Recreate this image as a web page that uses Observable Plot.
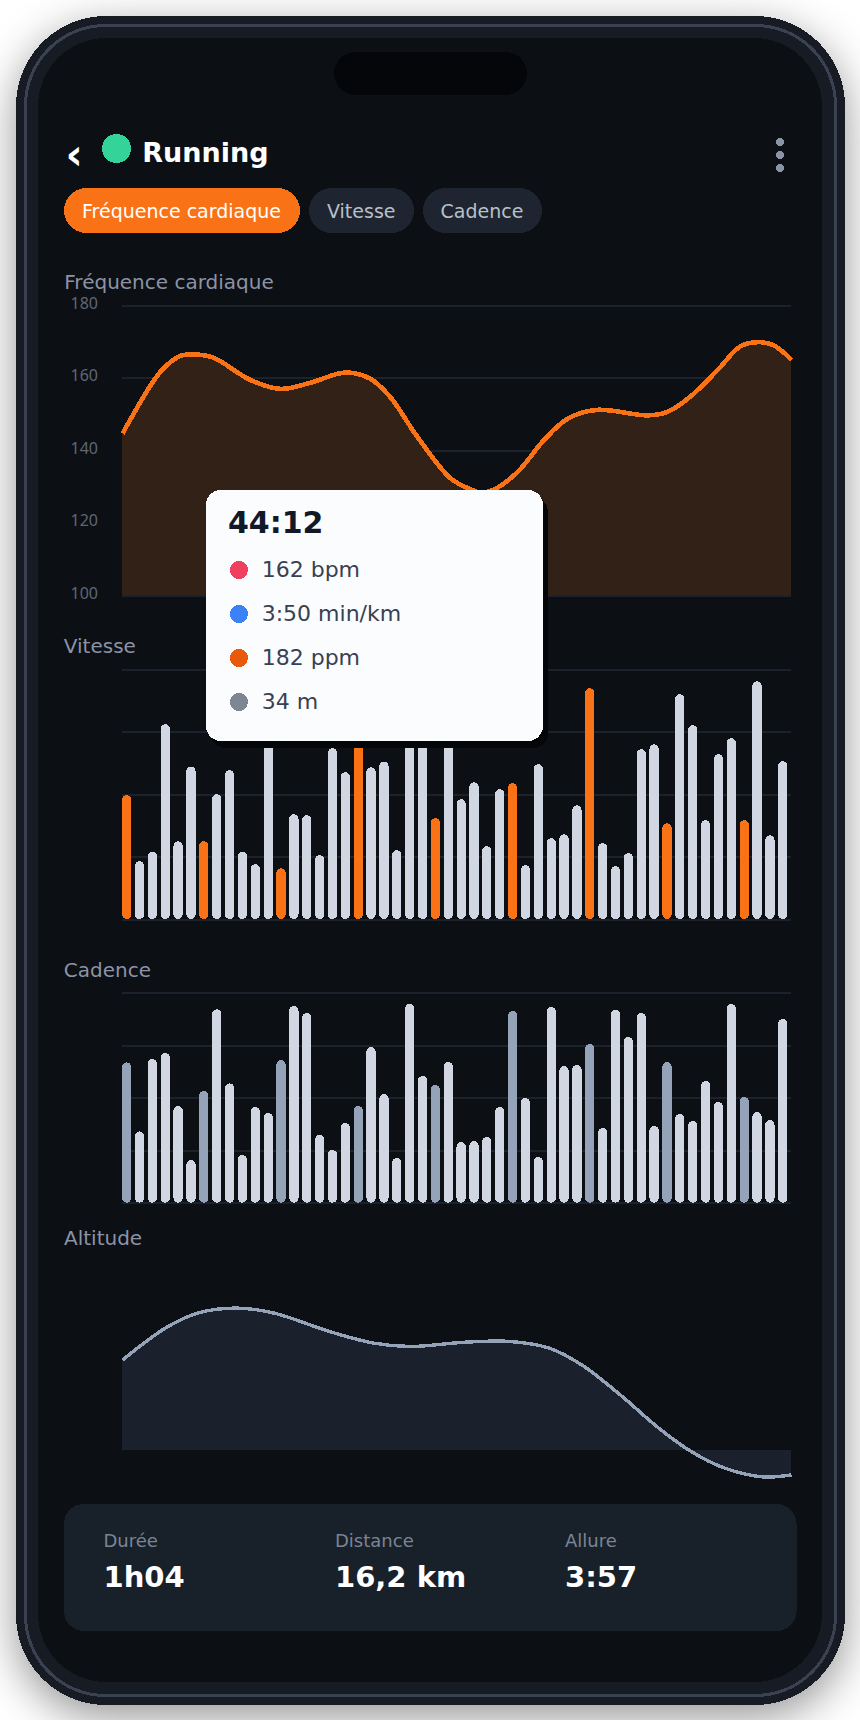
<!DOCTYPE html>
<html lang="fr">
<head>
<meta charset="utf-8">
<title>Running</title>
<script src="https://cdn.jsdelivr.net/npm/d3@7"></script>
<script src="https://cdn.jsdelivr.net/npm/@observablehq/plot@0.6"></script>
<style>
html,body{margin:0;padding:0;background:#fff;width:860px;height:1720px;overflow:hidden}
#stage{position:relative;width:860px;height:1720px;font-family:"DejaVu Sans",sans-serif}
#stage>svg{position:absolute;left:0;overflow:visible}
#stage svg{shape-rendering:crispEdges}
.lbl{fill:#8b93a7;font-size:20px}
.tip{fill:#374151;font-size:22px}
.sl{fill:#7c8494;font-size:18px}
.sv{fill:#fff;font-size:29px;font-weight:700}
</style>
</head>
<body>
<div id="stage"></div>
<script>
// Fréquence cardiaque (minutes, bpm)
const hrTime = [0,2.7,3.9,5.55,6.8,8.7,12.2,15.1,18,21.3,23.7,25.6,28.2,31.4,33.3,34.2,35.5,37.8,40.3,42.6,45.4,50.2,52.1,54.3,56.9,59.1,60.8,62.3,64];
const hrValues = [144.7,158,162.6,166.1,166.5,165.6,159.5,157,158.7,161.5,159.8,154.8,143.8,132.3,129.3,128.4,129.2,134.1,142.8,148.8,151.2,149.7,150.6,154.8,162.1,168.7,169.9,169,165];
const hrTicks = [100,120,140,160,180];
// Vitesse (relative bars)
const speedValues = [49.5,23.1,27,77.9,31.1,61,31.1,49.9,59.5,27,21.9,72,20.3,41.9,41.5,25.5,68.3,58.7,72,60.7,63,27.5,72,72,40.3,72,47.9,54.7,29.1,51.9,54.3,21.5,61.9,32.3,33.9,45.5,92.3,30.3,21.1,26.3,67.9,69.9,38.3,89.9,77.5,39.5,65.9,72.3,39.5,95.1,33.5,63.1];
// Cadence (relative bars)
const cadenceValues = [66.9,34,68.5,71.4,46.1,20.3,53.3,92.2,56.9,22.7,45.6,42.8,68,93.8,90.5,32.3,25.1,38,46.1,74.2,51.8,21.3,94.8,60.4,56.1,67.1,28.9,29.4,31.3,45.6,91.4,49.9,21.8,93.3,65.2,65.7,75.7,35.6,91.9,79,90.5,36.6,67.1,42.3,39,58,48,94.8,50.4,43.2,39.4,87.6];
const barTicks = [0,25,50,75,100];
// Altitude
const altTime = [0,4.1,7.2,10.9,14.5,19.8,24,27.6,32.9,37.1,40.8,43.9,47.6,51.3,54.4,57.6,61.3,64];
const altValues = [45.2,61.2,68.7,71.2,68.7,59.5,53.7,52,54.2,54.5,51.2,42.9,27.9,11.2,-0.5,-8.8,-13.2,-12.2];
// Textes
const tabs = ["Fréquence cardiaque","Vitesse","Cadence"];
const tipRows = ["162 bpm","3:50 min/km","182 ppm","34 m"];
const summaryLabels = ["Durée","Distance","Allure"];
const summaryValues = ["1h04","16,2 km","3:57"];

const C = {grid:"#1c222c",orange:"#f97316",brown:"#322116",bar:"#d0d7e2",slate:"#94a3b8",altFill:"#1a212c",tick:"#5f6775"};
const stage = document.getElementById("stage");
const NS = "http://www.w3.org/2000/svg";

function addMarkup(html, top, h){
  const s = document.createElementNS(NS,"svg");
  s.setAttribute("width",860); s.setAttribute("height",h||1720);
  s.style.top = (top||0)+"px";
  s.innerHTML = html;
  stage.appendChild(s);
  return s;
}
function place(svg, top){
  svg.style.top = top+"px";
  svg.style.background = "transparent";
  stage.appendChild(svg);
}

// Téléphone
const chrome = addMarkup(`
<rect x="16" y="16" width="829" height="1689" rx="90" fill="#171b24"/>
<rect x="25.5" y="25.5" width="810" height="1670" rx="80" fill="none" stroke="#3a4150" stroke-width="3"/>
<rect x="38" y="38" width="784" height="1644" rx="68" fill="#0c0f14"/>
<rect x="334" y="52" width="193" height="43" rx="21.5" fill="#04060a"/>
<circle cx="116.5" cy="148.5" r="14.5" fill="#34d399"/>
<circle cx="780" cy="142" r="4" fill="#8b93a7"/><circle cx="780" cy="155" r="4" fill="#8b93a7"/><circle cx="780" cy="168" r="4" fill="#8b93a7"/>
<rect x="64" y="188" width="236" height="45" rx="22.5" fill="#f97316"/>
<rect x="309" y="188" width="105" height="45" rx="22.5" fill="#1e2530"/>
<rect x="423" y="188" width="119" height="45" rx="22.5" fill="#1e2530"/>
<rect x="64" y="1504" width="732.5" height="127" rx="20" fill="#18202a"/>
<text x="65.5" y="169" fill="#fff" font-size="42" font-weight="700">‹</text>
<text x="142.3" y="162" fill="#fff" font-size="27" font-weight="700">Running</text>
<text x="82" y="218.3" fill="#fff" font-size="19">${tabs[0]}</text>
<text x="327" y="218.3" fill="#b8c0cc" font-size="19">${tabs[1]}</text>
<text x="440.6" y="218.3" fill="#b8c0cc" font-size="19">${tabs[2]}</text>
<text class="lbl" x="64.3" y="289.3">${tabs[0]}</text>
<text class="lbl" x="63.8" y="652.7">${tabs[1]}</text>
<text class="lbl" x="63.8" y="976.7">${tabs[2]}</text>
<text class="lbl" x="64" y="1244.7">Altitude</text>
${summaryLabels.map((t,i)=>`<text class="sl" x="${[103.5,335,565][i]}" y="1547.3">${t}</text>`).join("")}
${summaryValues.map((t,i)=>`<text class="sv" x="${[103.5,335,565][i]}" y="1586.7">${t}</text>`).join("")}
`);
chrome.firstElementChild.style.filter = "drop-shadow(0 12px 22px rgba(0,0,0,.42))";

const base = {width:860, marginLeft:122, marginRight:69, marginTop:10, marginBottom:10, style:{background:"transparent"}};

// Fréquence cardiaque
const hr = hrTime.map((t,i)=>({t,v:hrValues[i]}));
place(Plot.plot({...base, height:310,
  x:{domain:[0,64],axis:null},
  y:{domain:[100,180],axis:null},
  marks:[
    Plot.ruleY(hrTicks,{stroke:C.grid,strokeWidth:2}),
    Plot.axisY({ticks:hrTicks,tickSize:0,tickPadding:24.5,fontSize:16,fill:C.tick,dy:-2,label:null,anchor:"left"}),
    Plot.areaY(hr,{x:"t",y:"v",y1:100,curve:"catmull-rom",fill:C.brown}),
    Plot.line(hr,{x:"t",y:"v",curve:"catmull-rom",stroke:C.orange,strokeWidth:4.6,strokeLinecap:"butt"})
  ]}),294.5);

// Barres
function bars(values, top, height, accent){
  const data = values.map((v,i)=>({i,v,k:i%6===0?"accent":"base"}));
  place(Plot.plot({...base, height,
    x:{type:"band",domain:d3.range(values.length),paddingInner:0.28,paddingOuter:0.14,align:0,axis:null},
    y:{domain:[0,100],axis:null},
    color:{domain:["base","accent"],range:[C.bar,accent]},
    marks:[
      Plot.ruleY(barTicks,{stroke:C.grid,strokeWidth:2}),
      Plot.barY(data,{x:"i",y:"v",fill:"k",rx:4.6})
    ]}),top);
}
bars(speedValues,658.7,270,C.orange);
bars(cadenceValues,982.5,229.7,C.slate);

// Altitude
const alt = altTime.map((t,i)=>({t,v:altValues[i]}));
place(Plot.plot({...base, height:210,
  x:{domain:[0,64],axis:null},
  y:{domain:[-20,75],axis:null},
  marks:[
    Plot.areaY(alt,{x:"t",y:"v",curve:"catmull-rom",fill:C.altFill}),
    Plot.line(alt,{x:"t",y:"v",curve:"catmull-rom",stroke:C.slate,strokeWidth:3.4,strokeLinecap:"butt"})
  ]}),1290.2);

// Infobulle
const dots = ["#ef4060","#3b82f6","#ea580c","#7e8694"];
addMarkup(`
<rect x="211" y="497" width="337" height="251" rx="15" fill="#05060a"/>
<rect x="206" y="490" width="337" height="251" rx="15" fill="#fbfcfe"/>
<text x="228" y="533.3" fill="#111827" font-size="30" font-weight="700">44:12</text>
${tipRows.map((t,i)=>`<circle cx="239" cy="${570+44*i}" r="9" fill="${dots[i]}"/><text class="tip" x="261.7" y="${577.4+44*i}">${t}</text>`).join("")}
`);
</script>
</body>
</html>
